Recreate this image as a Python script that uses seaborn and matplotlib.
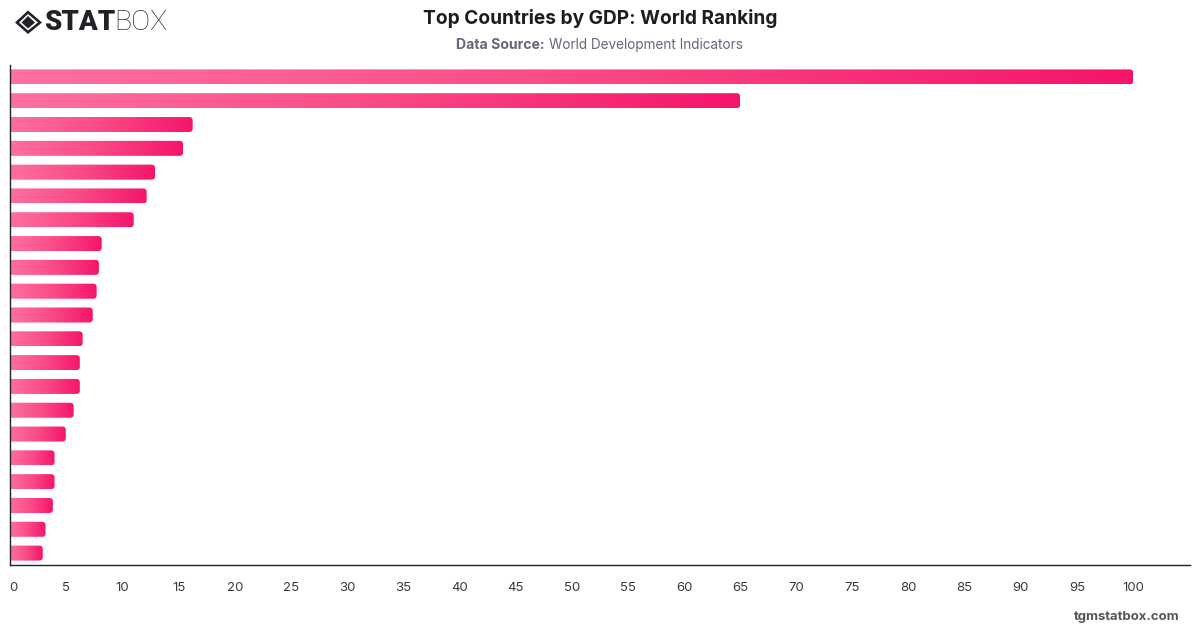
import numpy as np
import pandas as pd
import matplotlib
matplotlib.use("Agg")
import matplotlib.pyplot as plt
import seaborn as sns
from matplotlib.colors import LinearSegmentedColormap
from matplotlib.patches import FancyBboxPatch, Polygon
from matplotlib.transforms import ScaledTranslation

ranks = [str(i) for i in range(1, 22)]
gdp_index = [100, 65.0, 16.25, 15.4, 12.9, 12.15, 11.0, 8.15, 7.9, 7.7, 7.35,
             6.45, 6.2, 6.2, 5.65, 4.95, 3.95, 3.95, 3.8, 3.15, 2.9]
x_ticks = list(range(0, 101, 5))
title = "Top Countries by GDP: World Ranking"
source_label = "Data Source:"
source_name = "World Development Indicators"
site = "tgmstatbox.com"

sns.set_theme(style="white")
plt.rcParams["font.family"] = ["Inter", "DejaVu Sans"]

W, H = 1200, 628
fig = plt.figure(figsize=(W / 100, H / 100), dpi=100, facecolor="white")
left, right, top, bottom = 10.2, 1190, 65, 565
ax = fig.add_axes([left / W, 1 - bottom / H, (right - left) / W, (bottom - top) / H])

df = pd.DataFrame({"rank": ranks, "value": gdp_index})
sns.barplot(data=df, x="value", y="rank", orient="h", width=15 / 23.8,
            color="#fb2a76", ax=ax)

scale = 11.23
xmax = (right - left) / scale
ax.set_xlim(0, xmax)
ax.set_ylim(20.5, -0.5)

# Swap each flat bar for a left-to-right gradient with rounded right corners
cmap = LinearSegmentedColormap.from_list("pinks", ["#ff6fa1", "#fb4a87", "#f5156a"])
ramp = np.linspace(0, 1, 256).reshape(1, -1)
px_x = 1 / scale
px_y = 1 / 23.8
radius = 3.5 * px_x
for bar in list(ax.patches):
    x1, y0 = bar.get_x() + bar.get_width(), bar.get_y()
    h = bar.get_height()
    bar.set_visible(False)
    img = ax.imshow(ramp, cmap=cmap, aspect="auto", extent=(0, x1, y0 + h, y0),
                    interpolation="bilinear", zorder=2)
    clip = FancyBboxPatch((-2, y0), x1 + 2, h,
                          boxstyle=f"round,pad=0,rounding_size={radius}",
                          mutation_aspect=px_y / px_x,
                          transform=ax.transData, facecolor="none", edgecolor="none")
    ax.add_patch(clip)
    img.set_clip_path(clip)
ax.set_xlim(0, xmax)
ax.set_ylim(20.5, -0.5)

for name in ("top", "right"):
    ax.spines[name].set_visible(False)
for name in ("left", "bottom"):
    ax.spines[name].set_color("#222222")
    ax.spines[name].set_linewidth(1.0)
    ax.spines[name].set_zorder(5)

ax.set_xlabel("")
ax.set_ylabel("")
ax.set_yticks([])
ax.set_xticks(x_ticks)
ax.set_xticklabels([str(t) for t in x_ticks])
ax.tick_params(axis="x", length=0, pad=12, labelsize=9.5, labelcolor="#3a3a3a")
# The zero label sits just inside the axis line
zero = ax.get_xticklabels()[0]
zero.set_transform(zero.get_transform() + ScaledTranslation(3.2 / 100, 0, fig.dpi_scale_trans))

# Header
fig.text(600 / W, 1 - 18 / H, title, ha="center", va="center",
         fontsize=13.75, fontweight="bold", color="#1c1c22")
sub_y = 1 - 44.6 / H
fig.text(545 / W, sub_y, source_label, ha="right", va="center",
         fontsize=10.1, fontweight="bold", color="#66667a")
fig.text(549 / W, sub_y, source_name, ha="left", va="center",
         fontsize=9.75, color="#66667a")

# Logo: a diamond mark next to the wordmark
def fig_poly(points, color):
    pts = [(x / W, 1 - y / H) for x, y in points]
    fig.add_artist(Polygon(pts, closed=True, transform=fig.transFigure,
                           facecolor=color, edgecolor="none"))

fig_poly([(15, 22.5), (28, 10.5), (42, 22.5), (28, 34)], "#222226")
fig_poly([(19, 22.5), (28, 14), (38, 22.5), (28, 30.5)], "white")
fig_poly([(21.5, 22.5), (28, 16), (35, 22.5), (28, 28.5)], "#222226")
fig.text(44 / W, 1 - 22.7 / H, "STAT", ha="left", va="center", fontsize=20,
         fontfamily="Roboto", fontweight="black", color="#222226")
fig.text(114 / W, 1 - 22.7 / H, "BOX", ha="left", va="center", fontsize=20.5,
         fontfamily="Roboto", fontweight="light", color="#333338")

fig.text(1180 / W, 1 - 617 / H, site, ha="right", va="center",
         fontsize=9.45, fontweight="bold", color="#555555")

fig.savefig("out.png", dpi=100, facecolor="white")
